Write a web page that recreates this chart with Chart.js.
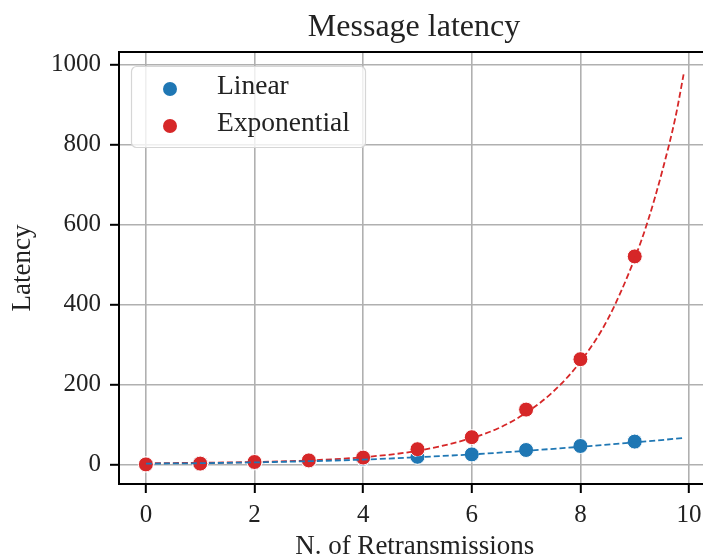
<!DOCTYPE html>
<html>
<head>
<meta charset="utf-8">
<script src="https://cdn.jsdelivr.net/npm/chart.js@4.4.1/dist/chart.umd.min.js"></script>
<style>
  html, body { margin: 0; padding: 0; background: #fff; overflow: hidden; }
  /* the plot runs past the right edge of the picture, as in the original */
  #wrap { width: 703px; height: 559px; overflow: hidden; }
</style>
</head>
<body>
<div id="wrap"><canvas id="chart" width="719" height="559"></canvas></div>
<script>
const retransmissions = [0, 1, 2, 3, 4, 5, 6, 7, 8, 9];
const linearLatency = [0, 2, 5, 9, 14, 19, 25, 36, 46, 57];
const exponentialLatency = [0, 2, 6, 10, 17, 38, 68, 137, 263, 520];

// dashed fit curves
const linearFitX = [0, 1, 2, 3, 4, 5, 6, 7, 8, 9, 9.9];
const linearFitY = [2, 3, 5, 8, 12, 18, 25, 34, 44, 55, 66];
const expFitX = [0, 1, 2, 3, 4, 5, 6, 6.5, 7, 7.5, 8, 8.5, 9, 9.25, 9.5, 9.75, 9.9];
const expFitY = [3, 4, 6, 10, 18, 34, 66, 91, 129, 182, 257, 362, 515, 612, 730, 868, 975];

const xTicks = [0, 2, 4, 6, 8, 10];
const yTicks = [0, 200, 400, 600, 800, 1000];

const BLUE = '#1f77b4';
const RED = '#d62728';
const FONT = "'Liberation Serif', 'DejaVu Serif', serif";

const toPoints = (xs, ys) => xs.map((x, i) => ({ x: x, y: ys[i] }));

// legend + title + top spine, matplotlib style
const decorations = {
  id: 'decorations',
  afterDraw(chart) {
    const ctx = chart.ctx;
    const area = chart.chartArea;
    ctx.save();

    // top spine
    ctx.strokeStyle = '#000';
    ctx.lineWidth = 2;
    ctx.beginPath();
    ctx.moveTo(area.left - 1, area.top);
    ctx.lineTo(area.right, area.top);
    ctx.stroke();

    // title
    ctx.fillStyle = '#222';
    ctx.font = '32px ' + FONT;
    ctx.textAlign = 'center';
    ctx.textBaseline = 'alphabetic';
    ctx.fillText('Message latency', 414, 36);

    // legend box
    const bx = 131.5, by = 66.5, bw = 234, bh = 81, r = 5;
    ctx.beginPath();
    ctx.moveTo(bx + r, by);
    ctx.arcTo(bx + bw, by, bx + bw, by + bh, r);
    ctx.arcTo(bx + bw, by + bh, bx, by + bh, r);
    ctx.arcTo(bx, by + bh, bx, by, r);
    ctx.arcTo(bx, by, bx + bw, by, r);
    ctx.closePath();
    ctx.fillStyle = 'rgba(255,255,255,0.8)';
    ctx.fill();
    ctx.strokeStyle = '#d6d6d6';
    ctx.lineWidth = 1.2;
    ctx.stroke();

    const items = chart.data.datasets.filter(d => d.showInLegend);
    items.forEach((d, i) => {
      const y = 89 + i * 37;
      ctx.beginPath();
      ctx.arc(170, y, 7, 0, Math.PI * 2);
      ctx.fillStyle = d.backgroundColor;
      ctx.fill();
      ctx.fillStyle = '#222';
      ctx.font = '27.5px ' + FONT;
      ctx.textAlign = 'left';
      ctx.fillText(d.label, 217, y + 5);
    });
    ctx.restore();
  }
};

new Chart(document.getElementById('chart'), {
  type: 'scatter',
  data: {
    datasets: [
      {
        label: 'Linear fit',
        type: 'line',
        data: toPoints(linearFitX, linearFitY),
        borderColor: BLUE,
        borderWidth: 1.8,
        borderDash: [6, 3],
        pointRadius: 0,
        cubicInterpolationMode: 'monotone',
        fill: false,
        order: 0
      },
      {
        label: 'Exponential fit',
        type: 'line',
        data: toPoints(expFitX, expFitY),
        borderColor: RED,
        borderWidth: 1.8,
        borderDash: [6, 3],
        pointRadius: 0,
        cubicInterpolationMode: 'monotone',
        fill: false,
        order: 0
      },
      {
        label: 'Linear',
        data: toPoints(retransmissions, linearLatency),
        backgroundColor: BLUE,
        borderColor: '#fff',
        borderWidth: 1,
        pointRadius: 7.5,
        showInLegend: true,
        order: 2
      },
      {
        label: 'Exponential',
        data: toPoints(retransmissions, exponentialLatency),
        backgroundColor: RED,
        borderColor: '#fff',
        borderWidth: 1,
        pointRadius: 7.5,
        showInLegend: true,
        order: 1
      }
    ]
  },
  options: {
    responsive: false,
    animation: false,
    layout: { padding: { top: 52, right: 0, left: 0, bottom: 0 } },
    plugins: {
      legend: { display: false },
      tooltip: { enabled: false },
      title: { display: false }
    },
    scales: {
      x: {
        type: 'linear',
        min: -0.495,
        max: 10.395,
        afterFit: (s) => { s.height = 75; },
        afterBuildTicks: (s) => { s.ticks = xTicks.map(v => ({ value: v })); },
        grid: { color: '#b0b0b0', lineWidth: 1.6, tickLength: 9, tickColor: '#000', tickWidth: 2 },
        border: { color: '#000', width: 2 },
        ticks: { color: '#222', padding: 7, font: { family: FONT, size: 25 }, callback: (v) => String(v) },
        title: {
          display: true,
          text: 'N. of Retransmissions',
          color: '#222',
          font: { family: FONT, size: 27, lineHeight: 0.9 },
          padding: { top: 0, bottom: 0 }
        }
      },
      y: {
        type: 'linear',
        min: -49,
        max: 1031,
        afterFit: (s) => { s.width = 119; },
        afterBuildTicks: (s) => { s.ticks = yTicks.map(v => ({ value: v })); },
        grid: { color: '#b0b0b0', lineWidth: 1.6, tickLength: 9, tickColor: '#000', tickWidth: 2 },
        border: { color: '#000', width: 2 },
        ticks: { color: '#222', padding: 9, font: { family: FONT, size: 25 }, callback: (v) => String(v) },
        title: {
          display: true,
          text: 'Latency',
          color: '#222',
          font: { family: FONT, size: 27 },
          padding: { top: 7, bottom: 0 }
        }
      }
    }
  },
  plugins: [decorations]
});
</script>
</body>
</html>
